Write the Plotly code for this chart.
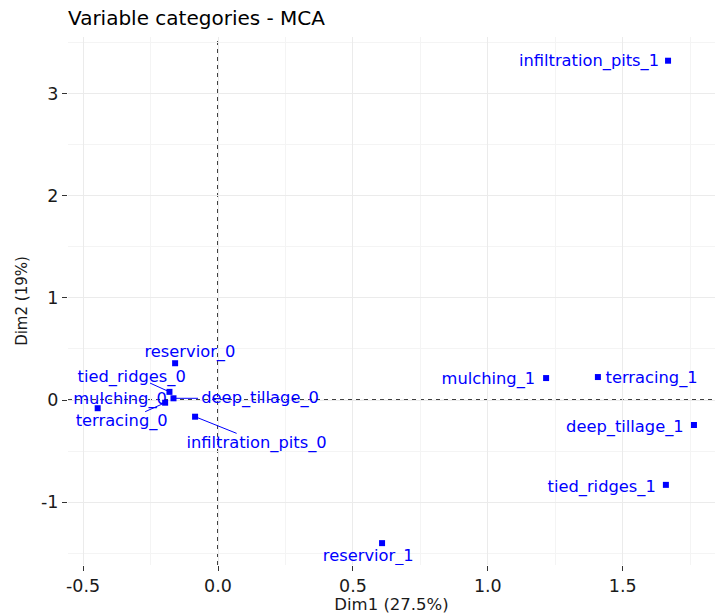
import plotly.graph_objects as go

categories = ["infiltration_pits_1", "mulching_1", "terracing_1", "deep_tillage_1",
              "tied_ridges_1", "reservior_1", "reservior_0", "tied_ridges_0",
              "deep_tillage_0", "mulching_0", "terracing_0", "infiltration_pits_0"]
dim1 = [1.668, 1.216, 1.408, 1.764, 1.660, 0.608, -0.159, -0.180, -0.165, -0.196, -0.446, -0.085]
dim2 = [3.32, 0.215, 0.225, -0.244, -0.83, -1.40, 0.36, 0.08, 0.017, -0.026, -0.08, -0.163]

# repelled label positions (data units) and whether a leader segment is drawn
label_x = [1.375, 1.002, 1.607, 1.508, 1.422, 0.557, -0.104, -0.32, 0.156, -0.363, -0.357, 0.143]
label_y = [3.31, 0.196, 0.202, -0.27, -0.857, -1.538, 0.46, 0.218, 0.007, 0.0, -0.212, -0.433]
segment = [False, False, False, False, False, False, False, True, True, True, False, True]
seg_start_x = [None]*7 + [-0.252, -0.074, -0.270, None, 0.069]
seg_start_y = [None]*7 + [0.166, 0.017, -0.114, None, -0.326]

x_tickvals = [-0.5, 0.0, 0.5, 1.0, 1.5]
x_ticktext = ["-0.5", "0.0", "0.5", "1.0", "1.5"]
y_tickvals = [-1, 0, 1, 2, 3]
y_ticktext = ["-1", "0", "1", "2", "3"]

title = "Variable categories - MCA"
xlabel = "Dim1 (27.5%)"
ylabel = "Dim2 (19%)"

FONT = "DejaVu Sans"
blue = "#0000FF"
fig = go.Figure()

# leader segments
for i in range(len(categories)):
    if segment[i]:
        fig.add_trace(go.Scatter(x=[seg_start_x[i], dim1[i]], y=[seg_start_y[i], dim2[i]],
                                 mode="lines", line=dict(color=blue, width=1),
                                 hoverinfo="skip", showlegend=False))

fig.add_trace(go.Scatter(x=dim1, y=dim2, mode="markers",
                         marker=dict(symbol="square", size=6, color=blue, line=dict(width=0)),
                         text=categories, showlegend=False))

fig.add_trace(go.Scatter(x=label_x, y=label_y, mode="text", text=categories,
                         textposition="middle center",
                         textfont=dict(family=FONT, size=16.3, color=blue),
                         hoverinfo="skip", showlegend=False))

fig.add_hline(y=0, line=dict(color="black", width=1.5, dash="4px,4px"), layer="below")
fig.add_vline(x=0, line=dict(color="black", width=1.5, dash="4px,4px"), layer="below")

axis_common = dict(showline=False, zeroline=False, ticks="outside", ticklen=5,
                   tickcolor="#333333", tickwidth=1,
                   gridcolor="#EBEBEB", gridwidth=1,
                   tickfont=dict(family=FONT, size=17.5, color="#1a1a1a"))

fig.update_layout(
    width=718, height=614,
    margin=dict(l=68, r=3, t=37, b=49),
    paper_bgcolor="white", plot_bgcolor="white",
    title=dict(text=title, x=68/718, xanchor="left", y=1-18/614, yanchor="middle",
               font=dict(family=FONT, size=20, color="black")),
    xaxis=dict(range=[-0.556, 1.842], tickvals=x_tickvals, ticktext=x_ticktext,
               minor=dict(tickvals=[-0.25, 0.25, 0.75, 1.25, 1.75], ticks="",
                          showgrid=True, gridcolor="#F4F4F4"),
               title=dict(text=xlabel, standoff=2,
                          font=dict(family=FONT, size=16.5, color="#1a1a1a")),
               **axis_common),
    yaxis=dict(range=[-1.614, 3.552], tickvals=y_tickvals, ticktext=y_ticktext,
               minor=dict(tickvals=[-1.5, -0.5, 0.5, 1.5, 2.5, 3.5], ticks="",
                          showgrid=True, gridcolor="#F4F4F4"),
               title=dict(text=ylabel, standoff=9,
                          font=dict(family=FONT, size=15, color="#1a1a1a")),
               **axis_common),
)

fig.write_html("out.html", config={"displayModeBar": False},
               post_script="document.body.style.margin='0px';")
